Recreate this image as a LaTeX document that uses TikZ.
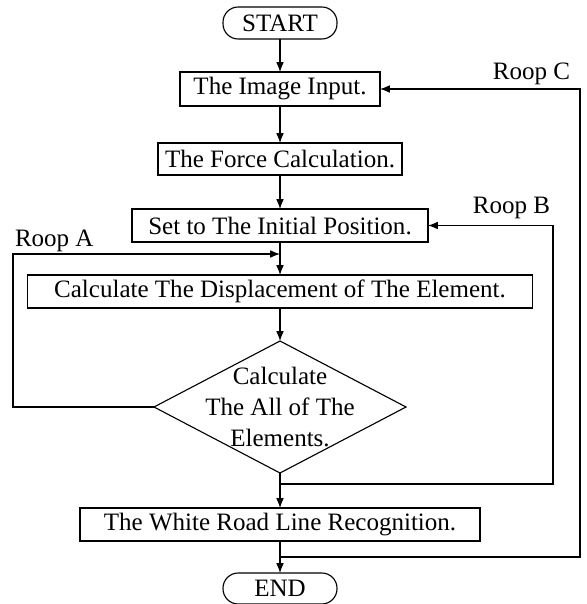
\documentclass[tikz,border=0pt]{standalone}
\usepackage{fontspec}
\setmainfont{Liberation Serif}
\usetikzlibrary{positioning, shapes.geometric, arrows.meta}

\begin{document}
\begin{tikzpicture}[node distance=0.825cm, line width=0.8pt,
  every node/.style={font=\fontsize{17.8}{22}\selectfont, inner sep=0pt, outer sep=0pt},
  box/.style={draw, rectangle, minimum height=0.825cm},
  term/.style={draw, rectangle, rounded corners=0.38cm, minimum width=2.85cm, minimum height=0.8cm},
  decision/.style={draw, diamond, minimum width=6.3cm, minimum height=3.3cm},
  arr/.style={-{Latex[length=7pt,width=5.5pt]}}]
\useasboundingbox (0,0) rectangle (14.65,-15.1);

\node (start) [term] at (7.0,-0.575) {START};
\node (input) [box, below=of start, minimum width=5cm, minimum height=0.85cm] {The Image Input.};
\node (force) [box, below=0.925cm of input, minimum width=6.1cm, minimum height=0.8cm] {The Force Calculation.};
\node (init) [box, below=0.85cm of force, minimum width=7.4cm] {Set to The Initial Position.};
\node (calc) [box, below=of init, minimum width=12.625cm] {Calculate The Displacement of The Element.};
\node (dec) [decision, below=of calc] {};
\node (dectext) [align=center] at (dec.center) {Calculate\\The All of The\\Elements.};
\node (white) [box, below=0.875cm of dec, minimum width=10cm] {The White Road Line Recognition.};
\node (end) [term, below=0.8cm of white, minimum height=0.775cm] {END};

% loop points
\coordinate [above=0.525cm of calc.north] (ja);
\coordinate [left=6.675cm of ja] (cornerA);
\coordinate [below=0.275cm of dec.south] (jb);
\coordinate [right=6.825cm of jb] (cornerB);
\coordinate (topB) at (cornerB |- init.east);
\coordinate [below=0.4cm of white.south] (jc);
\coordinate [right=7.5cm of jc] (cornerC);
\coordinate (topC) at (cornerC |- input.east);

\node (roopA) [above right=0.05cm and 0.05cm of cornerA] {Roop A};
\node (roopB) [above left=0.175cm and 0.075cm of topB] {Roop B};
\node (roopC) [above left=0.1cm and 0.25cm of topC] {Roop C};

\draw[arr] (start) -- (input);
\draw[arr] (input) -- (force);
\draw[arr] (force) -- (init);
\draw[arr] (init) -- (calc);
\draw[arr] (calc) -- (dec);
\draw[arr] (dec) -- (white);
\draw[arr] (white) -- (end);

\draw[arr] (dec.west) -| (cornerA) -- (ja);
\draw[arr] (jb) -- (cornerB) -- (topB) -- (init.east);
\draw[arr] (jc) -- (cornerC) -- (topC) -- (input.east);
\end{tikzpicture}
\end{document}
